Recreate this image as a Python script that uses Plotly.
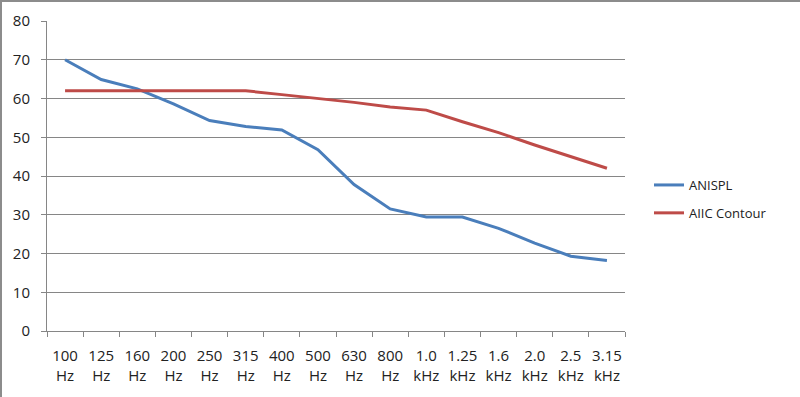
import plotly.graph_objects as go

categories = ["100<br>Hz", "125<br>Hz", "160<br>Hz", "200<br>Hz", "250<br>Hz", "315<br>Hz",
              "400<br>Hz", "500<br>Hz", "630<br>Hz", "800<br>Hz", "1.0<br>kHz", "1.25<br>kHz",
              "1.6<br>kHz", "2.0<br>kHz", "2.5<br>kHz", "3.15<br>kHz"]
anispl = [70, 64.9, 62.5, 58.6, 54.3, 52.8, 51.9, 46.8, 37.8, 31.5, 29.4, 29.4, 26.5, 22.7, 19.3, 18.2]
aiic_contour = [62, 62, 62, 62, 62, 62, 61, 60, 59, 57.8, 57, 54, 51.2, 48, 45, 42]
y_ticks = [0, 10, 20, 30, 40, 50, 60, 70, 80]

W, H = 800, 397
ml, mr, mt, mb = 47, 175, 21, 66

fig = go.Figure()
fig.add_trace(go.Scatter(x=categories, y=anispl, mode="lines", name="ANISPL", legendgroup="a",
                         line=dict(color="#4a7ebb", width=3)))
fig.add_trace(go.Scatter(x=categories, y=aiic_contour, mode="lines", name="AIIC Contour", legendgroup="b",
                         line=dict(color="#be4b48", width=3)))

pw = W - ml - mr
ph = H - mt - mb
fig.update_layout(
    width=W, height=H,
    margin=dict(l=ml, r=mr, t=mt, b=mb, autoexpand=False),
    paper_bgcolor="white", plot_bgcolor="white",
    font=dict(family="Open Sans, sans-serif", size=13, color="#222222"),
    showlegend=True,
    legend=dict(x=(649 - ml) / pw, y=(H - mb - 170) / ph, xanchor="left", yanchor="top",
                bgcolor="rgba(0,0,0,0)", font=dict(family="Open Sans, sans-serif", size=13, color="#222222"),
                tracegroupgap=8, traceorder="grouped", itemwidth=30),
    xaxis=dict(type="category", range=[-0.5, len(categories) - 0.5], showgrid=False,
               showline=True, linecolor="#868686", linewidth=1, tickangle=0,
               ticks="outside", tickson="boundaries", ticklen=5, tickcolor="#868686",
               tickfont=dict(family="Liberation Sans Narrow, Open Sans, sans-serif", size=15),
               fixedrange=True, automargin=False, ticklabelstandoff=11),
    yaxis=dict(range=[0, 80], tickvals=y_ticks, showgrid=True, gridcolor="#868686", gridwidth=1,
               showline=True, linecolor="#868686", linewidth=1, ticks="outside", ticklen=5,
               tickcolor="#868686", zeroline=False, tickfont=dict(family="Open Sans, sans-serif", size=15),
               fixedrange=True, automargin=False, ticklabelstandoff=8),
    shapes=[
        dict(type="line", xref="paper", yref="paper", x0=-(ml - 1) / pw, x1=-(ml - 1) / pw,
             y0=-mb / ph, y1=1 + mt / ph, line=dict(color="#8c8c8c", width=2)),
        dict(type="line", xref="paper", yref="paper", x0=-ml / pw, x1=1 + mr / pw,
             y0=1 + (mt - 1) / ph, y1=1 + (mt - 1) / ph, line=dict(color="#8c8c8c", width=2)),
    ],
)

fig.write_html("out.html", config={"displayModeBar": False, "staticPlot": True},
               post_script="document.body.style.margin='0';document.body.style.overflow='hidden';")
